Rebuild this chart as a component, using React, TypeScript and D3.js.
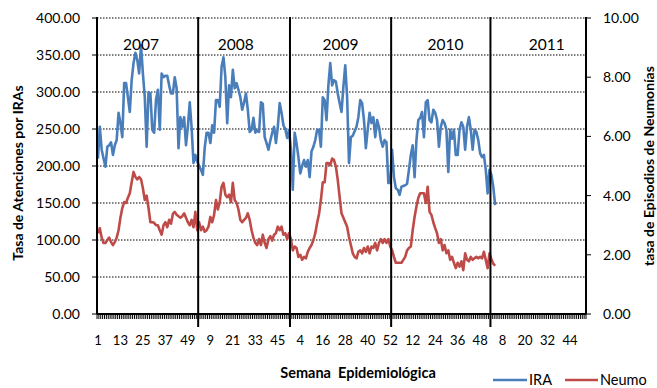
import React from "react";
import * as d3 from "d3";

// Epidemiological years and the number of weeks in each
const years = ["2007", "2008", "2009", "2010", "2011"];
const weeksPerYear = [52, 53, 52, 52, 52];

// Weekly rate of attentions for acute respiratory infections (left axis)
const ira2007 = [210, 253, 222, 210, 199, 226, 228, 232, 215, 228, 235, 272, 258, 239, 312, 312, 293, 273, 316, 339, 353, 343, 325, 363, 325, 293, 226, 300, 298, 249, 245, 290, 303, 249, 325, 320, 322, 322, 309, 298, 298, 320, 305, 224, 266, 253, 266, 228, 253, 286, 252, 204];
const ira2008 = [215, 206, 200, 195, 188, 225, 245, 245, 231, 255, 245, 289, 289, 280, 334, 347, 320, 258, 309, 293, 330, 305, 312, 303, 293, 276, 286, 298, 276, 246, 249, 265, 245, 248, 246, 286, 284, 239, 231, 222, 234, 245, 253, 231, 253, 285, 272, 255, 250, 238, 249, 222, 168];
const ira2009 = [245, 231, 212, 190, 200, 208, 199, 208, 185, 220, 226, 235, 249, 249, 226, 293, 289, 262, 309, 339, 309, 316, 314, 298, 285, 273, 307, 336, 293, 204, 239, 241, 247, 253, 266, 289, 285, 262, 224, 249, 272, 258, 266, 239, 262, 253, 235, 226, 235, 232, 177, 177];
const ira2010 = [222, 185, 170, 168, 161, 172, 173, 174, 176, 195, 215, 228, 185, 235, 262, 265, 273, 239, 286, 289, 262, 259, 276, 272, 262, 226, 253, 262, 258, 249, 192, 249, 237, 249, 215, 215, 249, 259, 253, 222, 253, 266, 249, 222, 249, 246, 235, 217, 212, 215, 195, 163];
const ira2011 = [195, 188, 172, 147];

// Weekly rate of pneumonia episodes (right axis)
const neumo2007 = [2.73, 2.9, 2.58, 2.4, 2.4, 2.5, 2.58, 2.43, 2.33, 2.43, 2.58, 2.83, 3.25, 3.58, 3.78, 3.75, 3.93, 4.08, 4.45, 4.8, 4.63, 4.55, 4.63, 4.55, 4.25, 3.85, 4.0, 3.58, 3.1, 3.1, 3.08, 3.0, 3.0, 2.83, 2.68, 3.0, 3.1, 2.93, 3.18, 3.05, 3.38, 3.45, 3.35, 3.3, 3.25, 3.3, 3.4, 3.25, 3.1, 3.0, 3.18, 2.93];
const neumo2008 = [3.45, 2.83, 3.1, 2.83, 2.95, 2.78, 2.83, 2.95, 3.28, 3.1, 3.35, 3.85, 3.53, 3.78, 4.3, 4.43, 4.03, 3.95, 4.03, 3.78, 4.43, 3.85, 3.75, 3.53, 3.18, 3.1, 3.18, 3.25, 3.4, 3.18, 2.83, 2.58, 2.4, 2.33, 2.53, 2.33, 2.68, 2.4, 2.23, 2.53, 2.63, 2.48, 2.68, 2.73, 2.95, 2.83, 2.95, 2.68, 2.73, 2.53, 2.73, 2.53, 2.15];
const neumo2009 = [2.28, 2.23, 1.93, 2.0, 1.83, 1.93, 1.88, 2.1, 2.23, 2.33, 2.5, 2.73, 3.08, 3.38, 3.85, 4.45, 4.45, 5.1, 5.1, 5.03, 5.25, 5.2, 4.98, 4.53, 3.95, 3.4, 3.25, 3.1, 2.95, 2.6, 2.33, 2.05, 1.93, 1.88, 2.1, 2.15, 2.05, 2.23, 2.1, 2.28, 2.05, 2.28, 2.23, 2.4, 2.15, 2.4, 2.53, 2.4, 2.53, 2.4, 2.53, 2.28];
const neumo2010 = [2.15, 1.93, 1.73, 1.73, 1.73, 1.73, 1.83, 1.93, 2.15, 2.23, 2.28, 2.83, 3.28, 3.63, 3.93, 4.08, 4.08, 4.08, 3.75, 4.3, 3.45, 3.35, 3.1, 2.9, 2.73, 2.4, 2.53, 2.15, 2.33, 2.05, 2.15, 1.83, 1.93, 1.73, 1.55, 1.73, 1.6, 1.78, 1.48, 2.05, 1.83, 1.78, 1.93, 1.83, 1.88, 1.93, 1.88, 1.93, 1.88, 2.1, 1.83, 1.55];
const neumo2011 = [2.05, 1.85, 1.7, 1.63];

// Axis ticks
const iraTicks = [0, 50, 100, 150, 200, 250, 300, 350, 400];
const neumoTicks = [0, 2, 4, 6, 8, 10];
const weekLabelStep = 12;

// Year separators and year captions, in weeks from the start of the axis
const dividerWeeks = [54, 103, 157, 210];
const yearLabelWeeks = [23.5, 74, 130, 186, 240];

const iraSeries = [...ira2007, ...ira2008, ...ira2009, ...ira2010, ...ira2011];
const neumoSeries = [...neumo2007, ...neumo2008, ...neumo2009, ...neumo2010, ...neumo2011];

// Week number within its year for every category on the axis
const weekNumbers: number[] = weeksPerYear.flatMap((n) => d3.range(1, n + 1));
const totalWeeks = weekNumbers.length;

const W = 657;
const H = 388;
const left = 97;
const right = 586;
const top = 18;
const bottom = 314;

const BLUE = "#4A7EBB";
const RED = "#BE4B48";
const FONT = "Lato, 'Open Sans', sans-serif";

export default function App() {
  const x = d3.scaleLinear().domain([0, totalWeeks]).range([left, right]);
  const yL = d3.scaleLinear().domain([0, 400]).range([bottom, top]);
  const yR = d3.scaleLinear().domain([0, 10]).range([bottom, top]);

  const iraLine = d3
    .line<number>()
    .x((_, i) => x(i + 0.5))
    .y((v) => yL(v));
  const neumoLine = d3
    .line<number>()
    .x((_, i) => x(i + 0.5))
    .y((v) => yR(v));

  const labelIdx = d3.range(0, totalWeeks, weekLabelStep);

  return (
    <svg
      width={W}
      height={H}
      viewBox={`0 0 ${W} ${H}`}
      style={{ position: "absolute", left: 0, top: 0, background: "#fff" }}
      fontFamily={FONT}
    >
      <rect x={0} y={0} width={W} height={H} fill="#fff" />

      {/* dotted gridlines */}
      {iraTicks
        .filter((t) => t > 0)
        .map((t) => (
          <line
            key={`g${t}`}
            x1={left}
            x2={right}
            y1={yL(t)}
            y2={yL(t)}
            stroke="#000"
            strokeWidth={1}
            strokeDasharray="1.5,1.5"
          />
        ))}

      {/* series */}
      <path d={neumoLine(neumoSeries) ?? ""} fill="none" stroke={RED} strokeWidth={2.6} strokeLinejoin="round" />
      <path d={iraLine(iraSeries) ?? ""} fill="none" stroke={BLUE} strokeWidth={2.6} strokeLinejoin="round" />

      {/* left axis */}
      <line x1={left} x2={left} y1={top - 1} y2={bottom} stroke="#000" strokeWidth={2} />
      {iraTicks.map((t) => (
        <g key={`l${t}`}>
          <line x1={left - 5} x2={left} y1={yL(t)} y2={yL(t)} stroke="#000" strokeWidth={1} />
          <text x={80} y={yL(t) + 5} textAnchor="end" fontSize={14} fill="#000">
            {t.toFixed(2)}
          </text>
        </g>
      ))}

      {/* right axis */}
      <line x1={right} x2={right} y1={top - 1} y2={bottom} stroke="#000" strokeWidth={2} />
      {neumoTicks.map((t) => (
        <g key={`r${t}`}>
          <line x1={right} x2={right + 5} y1={yR(t)} y2={yR(t)} stroke="#000" strokeWidth={1} />
          <text x={603} y={yR(t) + 5} textAnchor="start" fontSize={14} fill="#000">
            {t.toFixed(2)}
          </text>
        </g>
      ))}

      {/* category axis */}
      <line x1={left} x2={right} y1={bottom} y2={bottom} stroke="#000" strokeWidth={2} />
      {d3.range(0, totalWeeks + 1).map((k) => (
        <line key={`t${k}`} x1={x(k)} x2={x(k)} y1={bottom} y2={bottom + 5} stroke="#000" strokeWidth={1} />
      ))}
      {labelIdx.map((i) => (
        <text key={`w${i}`} x={x(i + 0.5)} y={345} textAnchor="middle" fontSize={13} fill="#000">
          {weekNumbers[i]}
        </text>
      ))}

      {/* year separators */}
      {dividerWeeks.map((w) => (
        <line key={`d${w}`} x1={x(w)} x2={x(w)} y1={top - 1} y2={327} stroke="#000" strokeWidth={2} />
      ))}
      {years.map((yr, j) => (
        <text key={yr} x={x(yearLabelWeeks[j])} y={50} textAnchor="middle" fontSize={15.5} fill="#000">
          {yr}
        </text>
      ))}

      {/* axis titles */}
      <text
        transform="translate(17,173) rotate(-90)"
        textAnchor="middle"
        dominantBaseline="central"
        fontSize={14}
        fontWeight="bold"
        fill="#000"
      >
        Tasa de Atenciones por IRAs
      </text>
      <text
        transform="translate(648,166) rotate(-90)"
        textAnchor="middle"
        dominantBaseline="central"
        fontSize={14}
        fontWeight="bold"
        fill="#000"
      >
        tasa de Episodios de Neumonías
      </text>
      <text x={358} y={378} textAnchor="middle" fontSize={14.5} fontWeight="bold" fill="#000" style={{ whiteSpace: "pre" }}>
        {"Semana  Epidemiológica"}
      </text>

      {/* legend */}
      <line x1={493} x2={527} y1={380} y2={380} stroke={BLUE} strokeWidth={2.6} />
      <text x={529} y={385} fontSize={14.5} fill="#000">
        IRA
      </text>
      <line x1={565} x2={598} y1={380} y2={380} stroke={RED} strokeWidth={2.6} />
      <text x={600} y={385} fontSize={14.5} fill="#000">
        Neumo
      </text>
    </svg>
  );
}
